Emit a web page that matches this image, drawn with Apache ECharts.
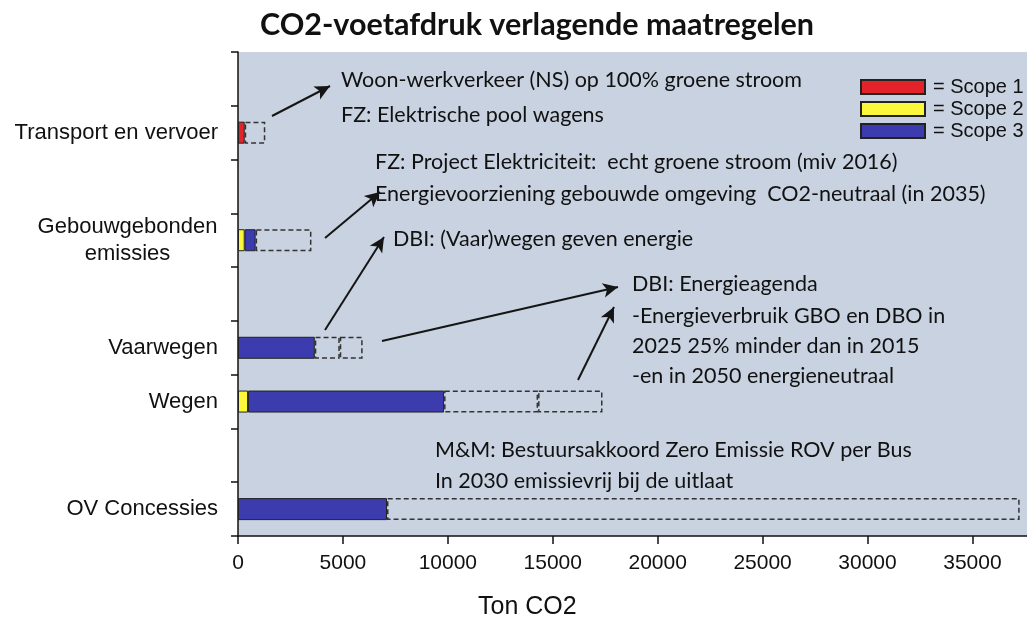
<!DOCTYPE html>
<html>
<head>
<meta charset="utf-8">
<script src="https://cdn.jsdelivr.net/npm/echarts@6/dist/echarts.min.js"></script>
<style>
html, body { margin: 0; padding: 0; background: #fff; }
#chart { width: 1027px; height: 620px; }
</style>
</head>
<body>
<div id="chart"></div>
<script>
// rijen van boven naar beneden, lege rijen zijn tussenruimte
var categories = ['', 'Transport en vervoer', '', 'Gebouwgebonden\nemissies', '', 'Vaarwegen', 'Wegen', '', 'OV Concessies'];
var scope1 = [null, 320, null, null, null, null, null, null, null];
var scope2 = [null, null, null, 320, null, null, 480, null, null];
var scope3 = [null, null, null, 520, null, 3660, 9340, null, 7100];
// gestippelde delen (reductie door maatregelen)
var reductie1 = [null, 980, null, 2660, null, 1190, 4480, null, 30150];
var reductie2 = [null, null, null, null, null, 1090, 3070, null, null];
var xMax = 37600;
var xStep = 5000;

// teksten bij de pijlen
var notes = [
    {text: 'Woon-werkverkeer (NS) op 100% groene stroom', x: 341, y: 80},
    {text: 'FZ: Elektrische pool wagens', x: 341, y: 115},
    {text: 'FZ: Project Elektriciteit:  echt groene stroom (miv 2016)', x: 375, y: 162},
    {text: 'Energievoorziening gebouwde omgeving  CO2-neutraal (in 2035)', x: 375, y: 194},
    {text: 'DBI: (Vaar)wegen geven energie', x: 393, y: 239},
    {text: 'DBI: Energieagenda', x: 632, y: 284},
    {text: '-Energieverbruik GBO en DBO in', x: 632, y: 316},
    {text: '2025 25% minder dan in 2015', x: 632, y: 346},
    {text: '-en in 2050 energieneutraal', x: 632, y: 376},
    {text: 'M&M: Bestuursakkoord Zero Emissie ROV per Bus', x: 435, y: 450},
    {text: 'In 2030 emissievrij bij de uitlaat', x: 435, y: 481}
];
var arrows = [
    [[272, 116], [330, 86]],
    [[325, 238], [380, 192]],
    [[325, 330], [384, 237]],
    [[382, 341], [618, 287]],
    [[578, 380], [614, 307]]
];

var chart = echarts.init(document.getElementById('chart'));

var graphics = notes.map(function (n) {
    return {
        type: 'text',
        x: n.x,
        y: n.y,
        style: {text: n.text, font: '21.5px Lato', fill: '#111', verticalAlign: 'middle'}
    };
});
graphics.push({
    type: 'text',
    x: 478,
    y: 607,
    style: {text: 'Ton CO2', font: '25px "Liberation Sans"', fill: '#111', verticalAlign: 'middle'}
});

var barBorder = {borderColor: '#222', borderWidth: 1};
var dashed = {color: 'rgba(0,0,0,0)', borderColor: '#333', borderWidth: 1.5, borderType: [5, 3]};

var option = {
    animation: false,
    title: {
        text: 'CO2-voetafdruk verlagende maatregelen',
        left: 532,
        top: 5,
        textAlign: 'center',
        textStyle: {fontFamily: 'Lato', fontWeight: 'bold', fontSize: 30.5, color: '#111'}
    },
    legend: {
        orient: 'vertical',
        left: 855,
        top: 71,
        itemWidth: 64,
        itemHeight: 14,
        itemGap: 0,
        icon: 'rect',
        formatter: '= {name}',
        textStyle: {fontFamily: 'Liberation Sans', fontSize: 20, lineHeight: 22, color: '#111', padding: [0, 0, 0, 3]},
        data: ['Scope 1', 'Scope 2', 'Scope 3']
    },
    grid: {
        left: 238,
        right: 0,
        top: 52,
        bottom: 84,
        show: true,
        backgroundColor: '#c8d2e0',
        borderWidth: 0
    },
    xAxis: {
        type: 'value',
        min: 0,
        max: xMax,
        interval: xStep,
        splitLine: {show: false},
        axisLine: {show: true, lineStyle: {color: '#111', width: 1.5}},
        axisTick: {show: true, length: 8, lineStyle: {color: '#111', width: 1.5}},
        axisLabel: {
            showMaxLabel: false,
            margin: 17,
            fontFamily: 'Liberation Sans',
            fontSize: 21,
            color: '#111',
            formatter: function (v) { return String(v); }
        }
    },
    yAxis: {
        type: 'category',
        inverse: true,
        data: categories,
        axisLine: {show: true, lineStyle: {color: '#111', width: 1.5}},
        axisTick: {show: true, length: 7, lineStyle: {color: '#111', width: 1.5}},
        axisLabel: {
            margin: 20,
            fontFamily: 'Liberation Sans',
            fontSize: 22,
            lineHeight: 27,
            color: '#111',
            formatter: function (v) {
                if (v.indexOf('\n') < 0) return v;
                return v.split('\n').map(function (s) { return '{c|' + s + '}'; }).join('\n');
            },
            rich: {
                c: {width: 181, align: 'center', fontFamily: 'Liberation Sans', fontSize: 22, lineHeight: 27, color: '#111'}
            }
        }
    },
    series: [
        {name: 'Scope 1', type: 'bar', stack: 'co2', barWidth: 22, data: scope1,
            itemStyle: Object.assign({color: '#e4222a'}, barBorder)},
        {name: 'Scope 2', type: 'bar', stack: 'co2', barWidth: 22, data: scope2,
            itemStyle: Object.assign({color: '#fbf83c'}, barBorder)},
        {name: 'Scope 3', type: 'bar', stack: 'co2', barWidth: 22, data: scope3,
            itemStyle: Object.assign({color: '#3c3caf'}, barBorder)},
        {name: 'reductie 1', type: 'bar', stack: 'co2', barWidth: 22, data: reductie1,
            itemStyle: dashed},
        {name: 'reductie 2', type: 'bar', stack: 'co2', barWidth: 22, data: reductie2,
            itemStyle: dashed,
            markLine: {
                silent: true,
                symbol: ['none', 'arrow'],
                symbolSize: [11, 15],
                label: {show: false},
                lineStyle: {color: '#151515', width: 2, type: 'solid'},
                data: arrows.map(function (a) {
                    return [{x: a[0][0], y: a[0][1]}, {x: a[1][0], y: a[1][1]}];
                })
            }}
    ],
    graphic: graphics
};
chart.setOption(option);
</script>
</body>
</html>
